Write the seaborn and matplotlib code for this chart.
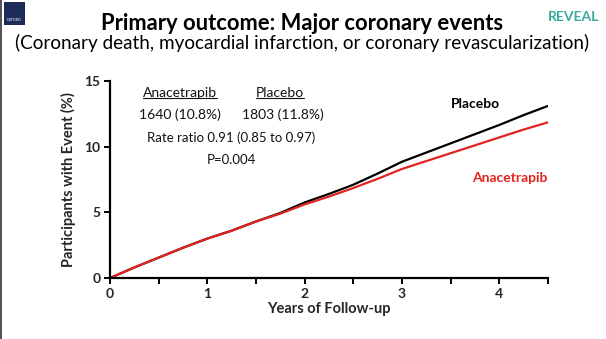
import numpy as np
import pandas as pd
import matplotlib
matplotlib.use("Agg")
import matplotlib.pyplot as plt
import seaborn as sns
from matplotlib.lines import Line2D
from matplotlib.patches import Rectangle

# Cumulative incidence of major coronary events (%) by years of follow-up
years = [0, 0.25, 0.5, 0.75, 1.0, 1.25, 1.5, 1.75, 2.0, 2.25, 2.5, 2.75,
         3.0, 3.25, 3.5, 3.75, 4.0, 4.25, 4.5]
placebo = [0, 0.8, 1.55, 2.3, 3.0, 3.6, 4.3, 4.95, 5.75, 6.4, 7.1, 7.95,
           8.85, 9.55, 10.25, 10.95, 11.65, 12.4, 13.1]
anacetrapib = [0, 0.8, 1.55, 2.3, 3.0, 3.6, 4.3, 4.9, 5.6, 6.2, 6.85, 7.55,
               8.3, 8.9, 9.5, 10.1, 10.7, 11.3, 11.85]

groups = ["Placebo", "Anacetrapib"]
colors = {"Placebo": "#000000", "Anacetrapib": "#e2231f"}
x_ticks = [0, 1, 2, 3, 4]
y_ticks = [0, 5, 10, 15]

df = pd.concat([
    pd.DataFrame({"Years": years, "Pct": placebo, "Group": "Placebo"}),
    pd.DataFrame({"Years": years, "Pct": anacetrapib, "Group": "Anacetrapib"}),
])

sns.set_theme(style="white")
plt.rcParams["font.family"] = ["Lato", "DejaVu Sans"]

fig = plt.figure(figsize=(6.06, 3.39), dpi=100)
ax = fig.add_axes([0.1815, 0.180, 0.7225, 0.581])

sns.lineplot(data=df, x="Years", y="Pct", hue="Group", hue_order=groups,
             palette=colors, linewidth=1.6, legend=False, ax=ax)

ax.set_xlim(0, 4.5)
ax.set_ylim(0, 15)
minor = np.arange(0, 4.51, 0.5)
ax.set_xticks(minor)
ax.set_xticklabels([str(int(v)) if v in x_ticks else "" for v in minor])
ax.set_yticks(y_ticks)
ax.set_yticklabels([str(v) for v in y_ticks])
for s in ["top", "right"]:
    ax.spines[s].set_visible(False)
for s in ["left", "bottom"]:
    ax.spines[s].set_color("black")
    ax.spines[s].set_linewidth(1.6)
ax.tick_params(axis="both", direction="out", length=4, width=1.4, color="black",
               labelsize=10, pad=3, bottom=True, left=True)
for lab in ax.get_xticklabels() + ax.get_yticklabels():
    lab.set_fontweight("bold")

ax.set_xlabel("Years of Follow-up", fontsize=10.5, fontweight="bold", labelpad=2)
ax.set_ylabel("Participants with Event (%)", fontsize=10.5, fontweight="bold", labelpad=6)

# Summary statistics
txt_kw = dict(ha="center", va="center", fontsize=10, color="#111111")
h1 = ax.text(0.72, 14.05, "Anacetrapib", **txt_kw)
h2 = ax.text(1.75, 14.05, "Placebo", **txt_kw)
ax.text(0.72, 12.4, "1640 (10.8%)", **txt_kw)
ax.text(1.78, 12.4, "1803 (11.8%)", **txt_kw)
ax.text(1.25, 10.65, "Rate ratio 0.91 (0.85 to 0.97)", **{**txt_kw, "fontsize": 9.5})
ax.text(1.25, 8.95, "P=0.004", **{**txt_kw, "fontsize": 9.5})

# Curve labels
ax.text(3.76, 13.25, "Placebo", ha="center", va="center", fontsize=10,
        fontweight="bold", color=colors["Placebo"])
ax.text(4.11, 7.6, "Anacetrapib", ha="center", va="center", fontsize=10,
        fontweight="bold", color=colors["Anacetrapib"])

# Titles
fig.text(0.498, 0.932, "Primary outcome: Major coronary events", ha="center",
         va="center", fontsize=15.8, fontweight="bold", color="black")
fig.text(0.499, 0.874, "(Coronary death, myocardial infarction, or coronary revascularization)",
         ha="center", va="center", fontsize=13.6, color="black")

# Corner marks
fig.patches.append(Rectangle((0.006, 0.925), 0.036, 0.068, transform=fig.transFigure,
                             facecolor="#1c2b57", edgecolor="none"))
fig.text(0.024, 0.94, "OXFORD", ha="center", va="center", fontsize=2.5, color="white")
fig.text(0.947, 0.95, "REVEAL", ha="center", va="center", fontsize=10,
         fontweight="bold", color="#3aa99f")
fig.patches.append(Rectangle((0.0, 0.0), 0.003, 1.0, transform=fig.transFigure,
                             facecolor="#555555", edgecolor="none"))

# Underline the column headers
fig.canvas.draw()
renderer = fig.canvas.get_renderer()
inv = ax.transData.inverted()
for h in (h1, h2):
    bb = h.get_window_extent(renderer)
    (x0, y0), (x1, _) = inv.transform([(bb.x0, bb.y0 + 1), (bb.x1, bb.y0 + 1)])
    ax.add_line(Line2D([x0, x1], [y0, y0], color="#111111", linewidth=0.8))

fig.savefig("out.png", dpi=100, facecolor="white")
